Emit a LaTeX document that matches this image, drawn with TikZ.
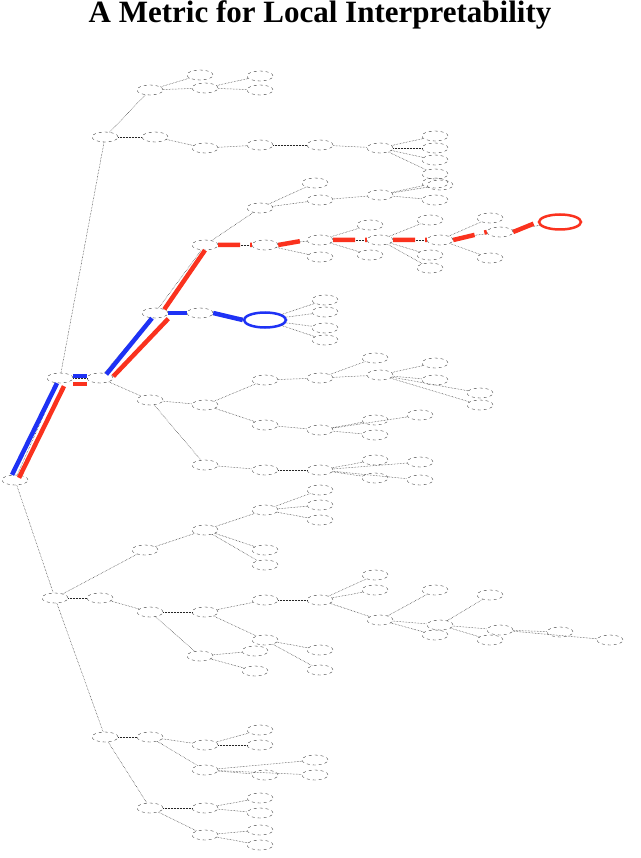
\documentclass[tikz,border=0pt]{standalone}
\usepackage{fontspec}
\setmainfont{Liberation Serif}
\usetikzlibrary{shapes.geometric}
\definecolor{hr}{RGB}{250,50,30}
\definecolor{hb}{RGB}{30,50,245}
\begin{document}
\begin{tikzpicture}[x=1pt,y=-1pt,
  tn/.style={draw=black!80,dashed,line width=0.35pt,ellipse,minimum width=26pt,minimum height=10pt,inner sep=0pt},
  eg/.style={draw=black!85,densely dotted,line width=0.5pt},
  hred/.style={draw=hr,line width=4.5pt},
  hblue/.style={draw=hb,line width=4.5pt}]
\useasboundingbox (0,0) rectangle (640,858);
\node[font=\bfseries\fontsize{31}{34}\selectfont] (title) at (320,15) {A Metric for Local Interpretability};
% skeleton
\foreach \n/\x/\y in {R/15/480,A/60/378,B/55/598,A1/105/137,A2/100/378,
 a11/150/90,a12/155/137,P/155/313,Q/150/400,P1/205/245,P2/200/313,
 P11/265/245,P12/260/208,Pa/320/240,Pb/380/240,Pc/440/240,Pd/500/232,
 Q1/205/405,Q2/205/465,Q11/265/380,Q12/265/425,Q21/265/470,
 B1/100/598,B2/105/737,B3/145/550,B31/205/530,B32/265/510,
 B11/150/612,B111/205/612,B112/200/656,B1a/265/600,B1b/265/640,B1c/320/600,B1d/380/620,B1e/440/625,B1f/500/630,
 B21/150/737,B22/150/808,B211/205/745,B212/205/770,B221/205/808,B222/205/835,
 a111/205/88,a121/205/148,a122/260/145,a123/320/145,a124/380/148,
 P121/320/200,P122/380/195,Q111/320/378,Q112/380/375,Q121/320/430,Q211/320/470}
  {\node[tn] (\n) at (\x,\y) {};}
\node[draw=hr,line width=2.5pt,ellipse,minimum width=42pt,minimum height=15pt] (E) at (560,222) {};
\node[draw=hb,line width=2.5pt,ellipse,minimum width=42pt,minimum height=15pt] (F) at (265,320) {};
\foreach \a/\b in {R/A,R/B,A/A1,A/A2,A1/a11,A1/a12,A2/P,A2/Q,P/P1,P/P2,P1/P11,P1/P12,P11/Pa,Pa/Pb,Pb/Pc,Pc/Pd,Pd/E,P2/F,
 Q/Q1,Q/Q2,Q1/Q11,Q1/Q12,Q2/Q21,B/B1,B/B2,B/B3,B3/B31,B31/B32,B1/B11,B11/B111,B11/B112,B111/B1a,B111/B1b,B1a/B1c,B1c/B1d,B1d/B1e,B1e/B1f,
 B2/B21,B2/B22,B21/B211,B21/B212,B22/B221,B22/B222,a11/a111,a12/a121,a121/a122,a122/a123,a123/a124,P12/P121,P121/P122,Q11/Q111,Q111/Q112,Q12/Q121,Q21/Q211}
  {\draw[eg] (\a) -- (\b);}
% leaves
\foreach \p/\i/\dx/\dy in {a11/1/50/-15,a111/1/55/-12,a111/2/55/2,a124/1/55/-12,a124/2/55/0,a124/3/55/12,a124/4/55/26,
 P12/1/55/-25,P122/1/55/-12,P122/2/55/5,P122/3/60/-10,P11/1/55/12,Pa/1/50/-15,Pa/2/50/15,Pb/1/50/-20,Pb/2/50/15,Pb/3/50/28,Pc/1/50/-22,Pc/2/50/18,
 F/1/60/-20,F/2/60/-8,F/3/60/8,F/4/60/20,Q111/1/55/-20,Q112/1/55/-12,Q112/2/55/5,Q112/3/100/18,Q112/4/100/30,Q121/1/55/-10,Q121/2/55/5,Q121/3/100/-15,
 Q211/1/55/-10,Q211/2/55/8,Q211/3/100/-8,Q211/4/100/10,B32/1/55/-20,B32/2/55/-5,B32/3/55/10,B31/1/60/20,B31/2/60/35,
 B1c/1/55/-25,B1c/2/55/-10,B1d/1/55/-30,B1d/2/55/15,B1e/1/50/-30,B1e/2/50/15,B1f/1/60/2,B1f/2/110/10,B1b/1/55/10,B1b/2/55/30,
 B211/1/55/-15,B211/2/55/0,B212/1/60/5,B212/2/110/-10,B212/3/110/5,B221/1/55/-10,B221/2/55/5,B222/1/55/-5,B222/2/55/10,B112/1/55/-5,B112/2/55/15}
  {\node[tn] (\p l\i) at ([shift={(\dx,\dy)}]\p) {}; \draw[eg] (\p) -- (\p l\i);}
% highlighted paths
\draw[hblue] ([shift={(-3,0)}]R.north) -- ([shift={(-3,0)}]A.south);
\draw[hred] ([shift={(4,3)}]R.north) -- ([shift={(4,3)}]A.south);
\draw[hblue] ([shift={(0,-2)}]A.east) -- ([shift={(0,-2)}]A2.west);
\draw[hred] ([shift={(0,6)}]A.east) -- ([shift={(0,6)}]A2.west);
\draw[hblue] ([shift={(-3,0)}]A2.north east) -- ([shift={(-3,0)}]P.south);
\draw[hred] ([shift={(4,2)}]A2.north east) -- ([shift={(4,2)}]P.south east);
\draw[hblue] (P.east) -- (P2.west);
\draw[hblue] (P2.east) -- (F.west);
\draw[hred] (P.north east) -- (P1.south);
\draw[hred,dash pattern=on 22pt off 10pt] (P1.east) -- (P11.west) (P11.east) -- (Pa.west) (Pa.east) -- (Pb.west) (Pb.east) -- (Pc.west) (Pc.east) -- (Pd.west) (Pd.east) -- (E.west);
\end{tikzpicture}
\end{document}
